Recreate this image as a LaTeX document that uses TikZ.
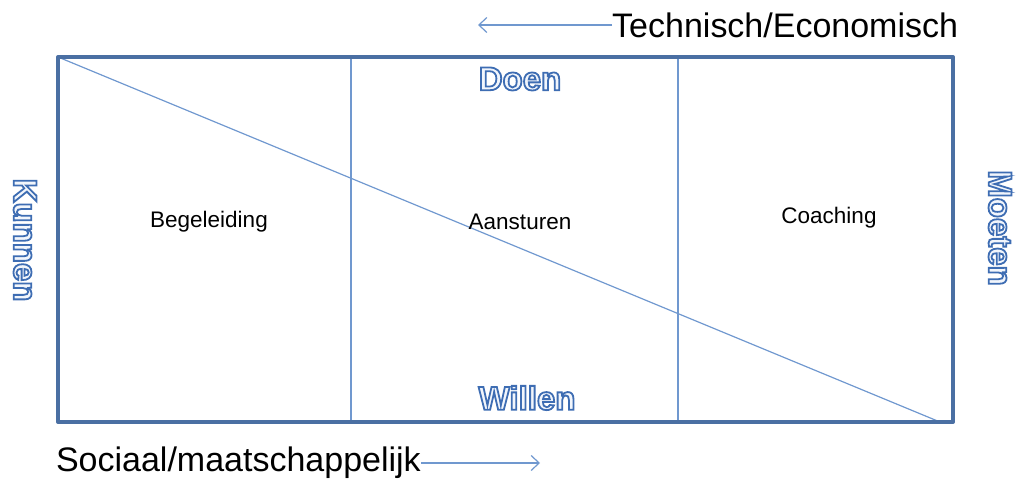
\documentclass[tikz,border=0pt]{standalone}
\usepackage{fontspec}
\setmainfont{Liberation Sans}
\usetikzlibrary{arrows.meta}
\definecolor{frameblue}{HTML}{4A6FA3}
\definecolor{lineblue}{HTML}{7098CF}
\definecolor{outblue}{HTML}{3E6DB3}
\definecolor{outfill}{HTML}{F2F6FC}
\newcommand{\outl}[1]{{\color{outfill}\special{pdf:literal direct 2 Tr 1.8 w 0.243 0.427 0.702 RG}#1\special{pdf:literal direct 0 Tr}}}
\tikzset{
  frame/.style={draw=frameblue, line width=4pt, line join=round},
  thin/.style={draw=lineblue, line width=1.2pt},
  axis/.style={draw=lineblue, line width=1.2pt, -{Straight Barb[length=8pt,width=15pt]}},
  celltext/.style={font=\fontsize{22.5}{24}\selectfont, inner sep=0pt},
  bigtext/.style={font=\fontsize{34}{36}\selectfont, inner sep=0pt},
  outtext/.style={font=\fontsize{33}{35}\bfseries\selectfont, inner sep=0pt}
}
\begin{document}
\begin{tikzpicture}[x=1pt,y=-1pt]
\useasboundingbox (0,0) rectangle (1018,479);
% corners
\coordinate (tl) at (58,57);
\coordinate (tr) at (953,57);
\coordinate (br) at (953,422);
\coordinate (bl) at (58,422);
\coordinate (dend) at (940,422);
\coordinate (v1t) at (351,57);
\coordinate (v1b) at (351,422);
\coordinate (v2t) at (678,57);
\coordinate (v2b) at (678,422);
% inner lines
\draw[thin] (v1t) -- (v1b);
\draw[thin] (v2t) -- (v2b);
\draw[thin] (tl) -- (dend);
% frame
\draw[frame] (tl) -- (tr) -- (br) -- (bl) -- cycle;
% cell labels
\node[celltext] (beg) at (209,222) {Begeleiding};
\node[celltext] (aan) at (520,222) {Aansturen};
\node[celltext] (coa) at (829,218) {Coaching};
% outlined labels
\node[outtext] (doen) at (520,79) {\outl{Doen}};
\node[outtext] (willen) at (527,398) {\outl{Willen}};
\node[outtext, rotate=-90] (kunnen) at (25,240) {\outl{Kunnen}};
\node[outtext, rotate=-90] (moeten) at (1000,228) {\outl{Moeten}};
% axis labels
\node[bigtext, anchor=west] (tech) at (612,25) {Technisch/Economisch};
\coordinate (techend) at (478,25);
\draw[axis] (tech.west) -- (techend);
\node[bigtext, anchor=east] (soc) at (421,463) {Sociaal/maatschappelijk};
\coordinate (socend) at (540,463);
\draw[axis] (soc.east) -- (socend);
\end{tikzpicture}
\end{document}
